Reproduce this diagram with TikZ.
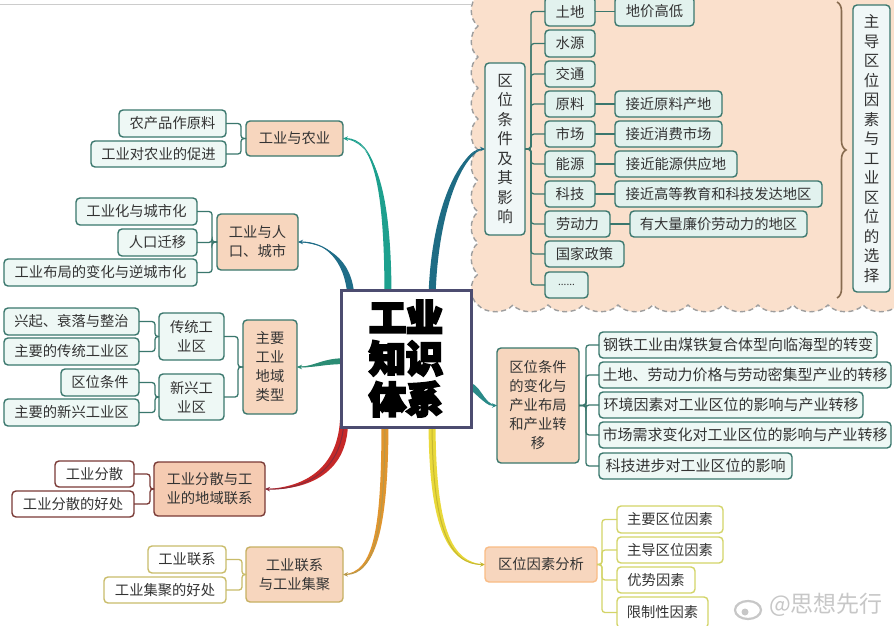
\documentclass[tikz,border=0pt]{standalone}
\usepackage{fontspec}
\setmainfont{Noto Sans CJK SC}
\newfontfamily\heavy[FakeBold=6]{Noto Sans CJK SC}
\usetikzlibrary{arrows.meta,decorations.pathreplacing}
\definecolor{tealB}{HTML}{3A776D}
\definecolor{peachF}{HTML}{F7D6BE}
\definecolor{salmF}{HTML}{F5CBB2}
\definecolor{leafF}{HTML}{EEF8F5}
\definecolor{itemF}{HTML}{E2F2EE}
\definecolor{redB}{HTML}{7A3A36}
\definecolor{yelB}{HTML}{C9BC6A}
\definecolor{grnB}{HTML}{D3D468}
\definecolor{cloudF}{HTML}{FAE0CC}
\definecolor{txt}{HTML}{333333}
\definecolor{cA}{HTML}{1DA08E}
\definecolor{cB}{HTML}{1F6D88}
\definecolor{cC}{HTML}{2B8C74}
\definecolor{cD}{HTML}{C62828}
\definecolor{cDd}{HTML}{8A2A3A}
\definecolor{cE}{HTML}{E0952E}
\definecolor{cEd}{HTML}{B8984A}
\definecolor{cF}{HTML}{E9D93A}
\definecolor{cG}{HTML}{2A8A88}
\definecolor{cH}{HTML}{1E6C84}
\pgfdeclarelayer{bg}
\pgfdeclarelayer{mid}
\pgfsetlayers{bg,mid,main}
\newcommand\bx[7]{\node[#1, minimum width={(#5)-(#3)}, minimum height={(#6)-(#4)}] (#2) at ({((#3)+(#5))/2},{((#4)+(#6))/2}) {#7};}
\begin{document}
\begin{tikzpicture}[x=1pt,y=-1pt,
  base/.style={draw, line width=1.4pt, rounded corners=4pt, inner sep=0pt, outer sep=0pt, align=center, text=txt, font=\fontsize{14.3}{19}\selectfont},
  leafT/.style={base, draw=tealB, fill=leafF},
  itemT/.style={base, draw=tealB, fill=itemF},
  mainT/.style={base, draw=tealB, fill=peachF},
  leafR/.style={base, draw=redB, fill=white},
  mainR/.style={base, draw=redB, fill=salmF},
  leafY/.style={base, draw=yelB, fill=white},
  mainY/.style={base, draw=yelB!80!brown, fill=peachF},
  leafG/.style={base, draw=grnB, fill=white},
  mainG/.style={base, draw=peachF!70!orange, fill=peachF},
  condbox/.style={base, draw=tealB, fill=white!94!teal, font=\fontsize{15.5}{19.5}\selectfont},
  rightT/.style={leafT, font=\fontsize{15}{19}\selectfont},
  centerbox/.style={draw=black!80!blue!70, line width=3pt, fill=white, inner sep=0pt, outer sep=0pt, align=center, font={\heavy\bfseries\fontsize{37}{41}\selectfont}},
  brT/.style={draw=tealB, line width=1.3pt, rounded corners=3pt},
  brR/.style={draw=redB, line width=1.3pt, rounded corners=3pt},
  brY/.style={draw=yelB, line width=1.3pt, rounded corners=3pt},
  brG/.style={draw=grnB, line width=1.3pt, rounded corners=3pt},
  arr/.style={-{Stealth[length=5pt,width=4.5pt]}, line width=1pt},
  cloudD/.style={draw=black!38, line width=1.4pt, dash pattern=on 5pt off 3.5pt}
]
\useasboundingbox (0,0) rectangle (894,626);

% background and cloud
\begin{pgfonlayer}{bg}
\fill[white] (0,0) rectangle (894,626);
\fill[cloudF] (900,-5) -- (478,-5)
  \foreach \i in {0,...,9}{ .. controls (469,{-5+31*\i+7}) and (469,{-5+31*\i+24}) .. (478,{26+31*\i}) }
  \foreach \i in {0,...,11}{ .. controls ({486+35*\i},314) and ({505+35*\i},314) .. ({513+35*\i},305) }
  -- (900,305) -- cycle;
\path[cloudD] (478,-5)
  \foreach \i in {0,...,9}{ .. controls (469,{-5+31*\i+7}) and (469,{-5+31*\i+24}) .. (478,{26+31*\i}) }
  \foreach \i in {0,...,11}{ .. controls ({486+35*\i},314) and ({505+35*\i},314) .. ({513+35*\i},305) };
\draw[black!20, line width=0.8pt] (0,4) -- (471,4);
\end{pgfonlayer}

% centre
\bx{centerbox}{C}{341}{290}{471}{427}{工业\\知识\\体系}

% left groups
\bx{leafT}{a1}{119}{110}{226}{137}{农产品作原料}
\bx{leafT}{a2}{91}{141}{226}{167}{工业对农业的促进}
\bx{mainT}{agri}{246}{121}{343}{156}{工业与农业}
\bx{leafT}{b1}{76}{198}{197}{225}{工业化与城市化}
\bx{leafT}{b2}{118}{229}{197}{256}{人口迁移}
\bx{leafT}{b3}{4}{259}{197}{286}{工业布局的变化与逆城市化}
\bx{mainT}{city}{217}{214}{298}{270}{工业与人\\口、城市}
\bx{leafT}{c1}{4}{308}{139}{335}{兴起、衰落与整治}
\bx{leafT}{c2}{4}{338}{139}{365}{主要的传统工业区}
\bx{leafT}{c3}{61}{369}{139}{396}{区位条件}
\bx{leafT}{c4}{4}{399}{139}{426}{主要的新兴工业区}
\bx{leafT}{trad}{159}{313}{224}{360}{传统工\\业区}
\bx{leafT}{new}{159}{374}{224}{420}{新兴工\\业区}
\bx{mainT}{region}{243}{320}{297}{414}{主要\\工业\\地域\\类型}
\bx{leafR}{d1}{55}{461}{134}{487}{工业分散}
\bx{leafR}{d2}{12}{491}{134}{517}{工业分散的好处}
\bx{mainR}{disp}{154}{462}{265}{516}{工业分散与工\\业的地域联系}
\bx{leafY}{e1}{148}{546}{226}{573}{工业联系}
\bx{leafY}{e2}{104}{577}{226}{603}{工业集聚的好处}
\bx{mainY}{link}{246}{547}{343}{602}{工业联系\\与工业集聚}

% top right
\bx{condbox}{cond}{485}{63}{525}{235}{区\\位\\条\\件\\及\\其\\影\\响}
\bx{itemT}{t1}{545}{-3}{595}{26}{土地}
\bx{itemT}{t2}{545}{30}{595}{57}{水源}
\bx{itemT}{t3}{545}{61}{595}{87}{交通}
\bx{itemT}{t4}{545}{91}{595}{117}{原料}
\bx{itemT}{t5}{545}{121}{595}{147}{市场}
\bx{itemT}{t6}{545}{151}{595}{177}{能源}
\bx{itemT}{t7}{545}{181}{595}{207}{科技}
\bx{itemT}{t8}{545}{211}{610}{237}{劳动力}
\bx{itemT}{t9}{545}{241}{624}{267}{国家政策}
\bx{itemT}{t10}{545}{272}{588}{298}{\fontsize{10}{10}\selectfont ......}
\bx{itemT}{r1}{615}{-3}{694}{26}{地价高低}
\bx{itemT}{r4}{615}{91}{722}{117}{接近原料产地}
\bx{itemT}{r5}{615}{121}{722}{147}{接近消费市场}
\bx{itemT}{r6}{615}{151}{737}{177}{接近能源供应地}
\bx{itemT}{r7}{615}{181}{822}{207}{接近高等教育和科技发达地区}
\bx{itemT}{r8}{630}{211}{807}{237}{有大量廉价劳动力的地区}
\bx{condbox}{sel}{853}{5}{890}{292}{主\\导\\区\\位\\因\\素\\与\\工\\业\\区\\位\\的\\选\\择}
\draw[draw=black!45!brown!80, line width=1.6pt, decorate, decoration={brace, amplitude=9pt}] (837,2) -- (837,298);

% right middle
\bx{mainT}{chg}{497}{348}{579}{463}{区位条件\\的变化与\\产业布局\\和产业转\\移}
\bx{rightT}{f1}{599}{332}{877}{358}{钢铁工业由煤铁复合体型向临海型的转变}
\bx{rightT}{f2}{599}{362}{891}{388}{土地、劳动力价格与劳动密集型产业的转移}
\bx{rightT}{f3}{599}{392}{863}{418}{环境因素对工业区位的影响与产业转移}
\bx{rightT}{f4}{599}{422}{891}{448}{市场需求变化对工业区位的影响与产业转移}
\bx{rightT}{f5}{599}{453}{792}{479}{科技进步对工业区位的影响}

% bottom right
\bx{mainG}{fac}{485}{547}{597}{582}{区位因素分析}
\bx{leafG}{g1}{617}{506}{723}{533}{主要区位因素}
\bx{leafG}{g2}{617}{537}{723}{563}{主导区位因素}
\bx{leafG}{g3}{617}{567}{695}{593}{优势因素}
\bx{leafG}{g4}{617}{597}{708}{628}{限制性因素}

% watermark
\node[font=\fontsize{23}{23}\selectfont, text=black!22, inner sep=0pt] (wm) at (826,605) {@思想先行};
\draw[black!22, line width=2.2pt] (748,610) ellipse [x radius=13, y radius=9];
\fill[black!22] (745,612) circle (3.5);

% bracket x positions
\coordinate (xa) at (241,0);
\coordinate (xb) at (212,0);
\coordinate (xc) at (155,0);
\coordinate (xd) at (238,0);
\coordinate (xe) at (150,0);
\coordinate (xf) at (242,0);
\coordinate (xg) at (531,0);
\coordinate (xh) at (586,0);
\coordinate (xi) at (602,0);

% left trees
\foreach \n in {a1,a2}{\draw[brT] (\n.east) -| (xa |- agri.west) -- (agri.west);}
\foreach \n in {b1,b2,b3}{\draw[brT] (\n.east) -| (xb |- city.west) -- (city.west);}
\foreach \n in {c1,c2}{\draw[brT] (\n.east) -| (xc |- trad.west) -- (trad.west);}
\foreach \n in {c3,c4}{\draw[brT] (\n.east) -| (xc |- new.west) -- (new.west);}
\foreach \n in {trad,new}{\draw[brT] (\n.east) -| (xd |- region.west) -- (region.west);}
\foreach \n in {d1,d2}{\draw[brR] (\n.east) -| (xe |- disp.west) -- (disp.west);}
\foreach \n in {e1,e2}{\draw[brY] (\n.east) -| (xf |- link.west) -- (link.west);}
% right trees
\foreach \n in {t1,t2,t3,t4,t5,t6,t7,t8,t9,t10}{\draw[brT] (cond.east) -- (cond.east -| xg) |- (\n.west);}
\draw[brT] (t1.east) -- (r1.west);
\draw[brT] (t4.east) -- (r4.west);
\draw[brT] (t5.east) -- (r5.west);
\draw[brT] (t6.east) -- (r6.west);
\draw[brT] (t7.east) -- (r7.west);
\draw[brT] (t8.east) -- (r8.west);
\foreach \n in {f1,f2,f3,f4,f5}{\draw[brT] (chg.east) -- (chg.east -| xh) |- (\n.west);}
\foreach \n in {g1,g2,g3,g4}{\draw[brG] (fac.east) -- (fac.east -| xi) |- (\n.west);}

% main branches
\coordinate (s1) at ([xshift=-18pt,yshift=-8pt]C.north);
\coordinate (s2) at ([xshift=-55pt,yshift=-8pt]C.north);
\coordinate (s3) at ([xshift=8pt,yshift=-2.5pt]C.west);
\coordinate (s4) at ([xshift=3pt,yshift=7pt]C.south west);
\coordinate (s5) at ([xshift=-21pt,yshift=8pt]C.south);
\coordinate (s6) at ([xshift=26pt,yshift=8pt]C.south);
\coordinate (s7) at ([xshift=-6pt,yshift=-26pt]C.east);
\coordinate (s8) at ([xshift=26pt,yshift=-8pt]C.north);
\begin{pgfonlayer}{mid}
\fill[cA] ([xshift=-3.5pt]s1) .. controls (384.5,180) and (372,137) .. (agri.east) .. controls (372,141) and (391.5,180) .. ([xshift=3.5pt]s1) -- cycle;
\draw[arr,cA] (s1) .. controls (388,180) and (372,139) .. (agri.east);
\fill[cB] ([xshift=-3.5pt]s2) .. controls (345.5,260) and (324,240) .. (city.east) .. controls (324,243.5) and (352.5,256) .. ([xshift=3.5pt]s2) -- cycle;
\draw[arr,cB] (s2) .. controls (349,258) and (324,242) .. (city.east);
\fill[cC] ([yshift=3pt]s3) .. controls (320,358) and (318,366) .. (region.east) .. controls (318,368) and (320,364) .. ([yshift=-3pt]s3) -- cycle;
\draw[arr,cC] (s3) .. controls (320,361) and (318,367) .. (region.east);
\fill[cD] ([xshift=-4pt]s4) .. controls (337,472) and (300,488) .. (disp.east) .. controls (300,491) and (349,478) .. ([xshift=4pt]s4) -- cycle;
\draw[arr,cDd] (s4) .. controls (342,475) and (300,490) .. (disp.east);
\fill[cE] ([xshift=-3.5pt]s5) .. controls (381.5,530) and (374,572.5) .. (link.east) .. controls (376,576) and (388.5,530) .. ([xshift=3.5pt]s5) -- cycle;
\draw[arr,cEd] (s5) .. controls (385,530) and (375,574) .. (link.east);
\fill[cF] ([xshift=-3.5pt]s6) .. controls (428.5,532) and (449,566) .. (fac.west) .. controls (451,563) and (435.5,528) .. ([xshift=3.5pt]s6) -- cycle;
\draw[arr,cF!85!black] (s6) .. controls (432,530) and (450,564.5) .. (fac.west);
\fill[cG] ([yshift=3pt]s7) .. controls (482,382) and (482,404.5) .. (chg.west) .. controls (482,406.5) and (476,390) .. ([yshift=-3pt]s7) -- cycle;
\draw[arr,cG] (s7) .. controls (479,386) and (481,405.5) .. (chg.west);
\fill[cH] ([xshift=-3.5pt]s8) .. controls (430.5,208) and (461,147.5) .. (cond.west) .. controls (463,150.5) and (437.5,212) .. ([xshift=3.5pt]s8) -- cycle;
\draw[arr,cH] (s8) .. controls (434,210) and (462,149) .. (cond.west);
\end{pgfonlayer}
\end{tikzpicture}
\end{document}
